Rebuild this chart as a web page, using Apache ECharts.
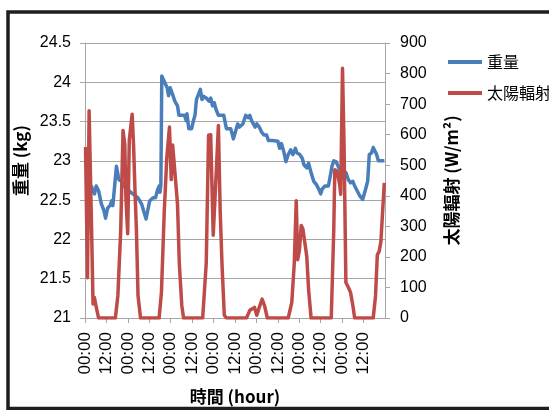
<!DOCTYPE html>
<html>
<head>
<meta charset="utf-8">
<script src="https://cdn.jsdelivr.net/npm/echarts@6/dist/echarts.min.js"></script>
<style>
html,body{margin:0;padding:0;background:#fff;}
#chart{width:549px;height:410px;}
</style>
</head>
<body>
<div id="chart"></div>
<script>
// Weight series (hours from start, kg)
var weightHours = [0.5,3.9,5.3,6.3,7.6,9.2,10.6,11.5,12.7,14,15,15.6,17.6,19,20.5,22.5,24.5,26.8,29.7,31.7,34.2,36.2,38.1,39.5,40.5,41.5,42,42.5,43,44.4,46,46.8,47.7,48.7,50.3,51.8,52.6,54.2,55.7,56.7,57.1,58.1,59.7,60.6,61.6,62.4,63.6,64.6,65.5,66.5,67.9,69.4,70.4,71.4,72.4,73.3,74.7,77.7,79.2,81.6,83.1,84,85.5,86.5,87.4,88.4,90,91.3,92.3,93.3,94.3,95.3,96.2,97.6,98.8,100.2,101.7,102.7,105,108,109,110,111.3,112.5,113.8,115.2,116.4,117.8,118.7,120.3,121.7,122.6,124.2,125.2,126.6,128.1,129.5,130.9,132,132.8,134.4,136.3,137.3,138.3,139.3,140.6,142.2,143.6,144.7,146.1,147.5,148.7,150,151,152.4,154,155.5,156.9,158.3,159.2,160.4,161.4,162.4,163.3,164.3,167.6];
var weightValues = [22.78,22.66,22.58,22.68,22.62,22.45,22.37,22.27,22.4,22.43,22.49,22.43,22.93,22.76,22.74,22.66,22.62,22.58,22.53,22.45,22.26,22.49,22.53,22.53,22.62,22.68,22.6,22.7,24.08,24.01,23.93,23.83,23.93,23.87,23.76,23.7,23.58,23.58,23.58,23.51,23.6,23.41,23.41,23.5,23.58,23.78,23.85,23.91,23.78,23.82,23.8,23.76,23.8,23.7,23.74,23.66,23.58,23.58,23.41,23.41,23.28,23.35,23.47,23.43,23.41,23.47,23.58,23.55,23.58,23.51,23.47,23.43,23.47,23.43,23.37,23.33,23.33,23.26,23.26,23.25,23.16,23.22,23.12,22.99,23.08,23.14,23.08,23.16,23.1,23.08,23.03,22.95,22.91,22.97,22.85,22.74,22.7,22.64,22.58,22.64,22.68,22.68,22.8,22.93,23.0,22.99,22.91,22.85,22.78,22.85,22.76,22.72,22.74,22.68,22.62,22.55,22.51,22.62,22.74,23.08,23.1,23.17,23.16,23.08,23.0,23.0];
// Solar radiation series (hours from start, W/m2)
var radHours = [0.3,1.4,2.3,2.9,3.7,4.5,5.3,6.1,7.6,17,18.4,20,21.3,22.3,22.9,23.9,24.8,25.6,26.4,27.2,28,28.8,29.7,31.1,41.5,42.8,44.4,45.8,47.3,48.3,49.1,49.9,50.9,51.8,52.8,54.2,55.2,65.9,67.9,69.2,70.4,71.8,72.8,73.7,74.7,75.7,76.7,78,79.2,90.4,92.3,93.7,94.9,96.2,97.6,99.2,100.5,102.1,113.8,115.8,117.2,118.3,119.1,120.1,121.1,122,123,124.2,125.2,126.6,137.9,139.3,139.9,141.2,142.6,143.2,144.2,145.1,146.1,147.5,148.7,150,151,161.4,162.7,163.7,164.7,165.7,166.7,167.6];
var radValues = [560,132,678,673,287,46,67,41,0,0,73,287,614,566,394,276,582,576,667,566,416,287,73,0,0,84,351,523,625,453,566,566,437,373,180,41,0,0,180,598,600,271,271,501,630,351,180,9,0,0,25,30,35,9,35,62,41,0,0,51,180,384,191,223,303,292,292,201,94,0,0,287,485,480,437,405,817,555,116,100,84,41,0,0,73,207,217,250,351,442];
// Labels
var seriesNames = ['重量', '太陽輻射'];
var tickLabelDay = '00:00';
var tickLabelNoon = '12:00';
var xAxisName = '時間 (hour)';
var leftAxisName = '重量 (kg)';
var rightAxisName = '太陽輻射 (W/m²)';

function pairs(xs, ys) { return xs.map(function (x, i) { return [x, ys[i]]; }); }

var FONT = 'Liberation Sans, Arial, Noto Sans CJK TC, sans-serif';
var CJK = 'Noto Sans CJK TC, Liberation Sans, sans-serif';
var BLUE = '#4A7EBB';
var RED = '#BE4B48';
var GRAY = '#A6A6A6';

var chart = echarts.init(document.getElementById('chart'), null, {renderer: 'canvas'});
chart.setOption({
  animation: false,
  backgroundColor: '#fff',
  grid: {left: 85, right: 164, top: 43, bottom: 87, containLabel: false},
  legend: {
    orient: 'vertical', left: 443, top: 47, itemWidth: 34, itemHeight: 4, itemGap: 11,
    icon: 'rect',
    textStyle: {fontFamily: CJK, fontSize: 16, color: '#000', lineHeight: 20},
    data: seriesNames
  },
  xAxis: {
    type: 'value', min: 0, max: 168, interval: 12,
    name: xAxisName, nameLocation: 'middle', nameGap: 70,
    nameTextStyle: {fontFamily: CJK, fontSize: 17, fontWeight: 'bold', color: '#000'},
    axisLine: {show: true, onZero: false, lineStyle: {color: GRAY, width: 1}},
    axisTick: {show: true, length: 5, lineStyle: {color: GRAY}},
    splitLine: {show: false},
    axisLabel: {
      rotate: 90, margin: 14, fontFamily: FONT, fontSize: 17, color: '#000',
      showMaxLabel: false,
      formatter: function (v) { return (v % 24 === 0) ? tickLabelDay : tickLabelNoon; }
    }
  },
  yAxis: [{
    type: 'value', min: 21, max: 24.5, interval: 0.5, position: 'left',
    name: leftAxisName, nameLocation: 'middle', nameRotate: 90, nameGap: 50,
    nameTextStyle: {fontFamily: CJK, fontSize: 17, fontWeight: 'bold', color: '#000', padding: [0, 0, 0, 40]},
    axisLine: {show: true, lineStyle: {color: GRAY, width: 1}},
    axisTick: {show: true, length: 5, lineStyle: {color: GRAY}},
    splitLine: {show: true, lineStyle: {color: GRAY, width: 1}},
    axisLabel: {margin: 14, fontFamily: FONT, fontSize: 16, color: '#000'}
  }, {
    type: 'value', min: 0, max: 900, interval: 100, position: 'right',
    name: rightAxisName, nameLocation: 'middle', nameRotate: 90, nameGap: 58,
    nameTextStyle: {fontFamily: CJK, fontSize: 17, fontWeight: 'bold', color: '#000'},
    axisLine: {show: true, lineStyle: {color: GRAY, width: 1}},
    axisTick: {show: true, length: 5, lineStyle: {color: GRAY}},
    splitLine: {show: false},
    axisLabel: {margin: 15, fontFamily: FONT, fontSize: 16, color: '#000'}
  }],
  series: [{
    name: seriesNames[0], type: 'line', yAxisIndex: 0, showSymbol: false, symbol: 'none',
    data: pairs(weightHours, weightValues),
    itemStyle: {color: BLUE},
    lineStyle: {color: BLUE, width: 3.5, join: 'round'},
    z: 2
  }, {
    name: seriesNames[1], type: 'line', yAxisIndex: 1, showSymbol: false, symbol: 'none',
    data: pairs(radHours, radValues),
    itemStyle: {color: RED},
    lineStyle: {color: RED, width: 3.5, join: 'round'},
    z: 3
  }],
  graphic: [{
    type: 'rect', silent: true, z: 100,
    shape: {x: 8, y: 12, width: 600, height: 396.5},
    style: {fill: null, stroke: '#1E1E1E', lineWidth: 3.5}
  }]
});
</script>
</body>
</html>
